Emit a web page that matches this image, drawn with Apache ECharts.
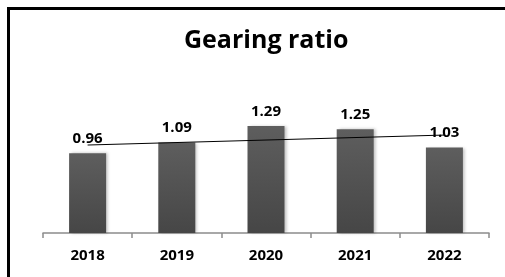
<!DOCTYPE html>
<html>
<head>
<meta charset="utf-8">
<title>Gearing ratio</title>
<script src="https://cdn.jsdelivr.net/npm/echarts@6/dist/echarts.min.js"></script>
<style>
  html, body { margin: 0; padding: 0; background: #fff; overflow: hidden; }
  #wrap { position: relative; width: 505px; height: 277px; overflow: hidden; }
  #container { width: 505px; height: 277px; }
  /* 外框：图片只露出左边和上边 */
  #frame {
    position: absolute; left: 7px; top: 7px; width: 600px; height: 400px;
    border-left: 3.5px solid #000; border-top: 3.5px solid #000;
    pointer-events: none;
  }
</style>
</head>
<body>
<div id="wrap">
  <div id="container"></div>
  <div id="frame"></div>
</div>
<script>
// 年份
var years = ['2018', '2019', '2020', '2021', '2022'];
// 杠杆比率
var gearing = [0.96, 1.09, 1.29, 1.25, 1.03];
// 趋势线两端
var trendYears = ['2018', '2022'];
var trendValues = [1.06, 1.18];

var dom = document.getElementById("container");
var myChart = echarts.init(dom);
var option = null;

var trendData = [];
for (var i = 0; i < trendYears.length; i++) {
    trendData.push([trendYears[i], trendValues[i]]);
}

option = {
    backgroundColor: '#fff',
    animation: false,
    title: {
        text: 'Gearing ratio',
        left: 179,
        top: 23,
        textStyle: {
            fontFamily: 'Open Sans',
            fontWeight: 'bold',
            fontSize: 25,
            color: '#000'
        }
    },
    grid: {
        left: 43,
        right: 16,
        top: 67,
        bottom: 44
    },
    xAxis: {
        type: 'category',
        data: years,
        boundaryGap: true,
        axisLine: { lineStyle: { color: '#8c8c8c', width: 1.5 } },
        axisTick: { show: true, length: 5, lineStyle: { color: '#8c8c8c', width: 1.5 } },
        axisLabel: {
            margin: 15,
            color: '#000',
            fontFamily: 'Open Sans',
            fontWeight: 'bold',
            fontSize: 15
        }
    },
    yAxis: {
        type: 'value',
        min: 0,
        max: 2,
        show: false,
        splitLine: { show: false }
    },
    series: [{
        name: 'Gearing ratio',
        type: 'bar',
        data: gearing,
        barWidth: 37,
        itemStyle: {
            color: new echarts.graphic.LinearGradient(0, 0, 0, 1, [
                { offset: 0, color: '#5e5e5e' },
                { offset: 1, color: '#464646' }
            ]),
            shadowColor: 'rgba(0,0,0,0.25)',
            shadowBlur: 3,
            shadowOffsetX: 2
        },
        label: {
            show: true,
            position: 'top',
            distance: 7,
            color: '#000',
            fontFamily: 'Open Sans',
            fontWeight: 'bold',
            fontSize: 15,
            formatter: function (p) { return p.value.toFixed(2); }
        },
        z: 2
    }, {
        name: 'Trend',
        type: 'line',
        data: trendData,
        showSymbol: false,
        symbol: 'none',
        lineStyle: { color: '#000', width: 1 },
        z: 5
    }]
};

if (option && typeof option === "object") {
    myChart.setOption(option, true);
}
</script>
</body>
</html>
